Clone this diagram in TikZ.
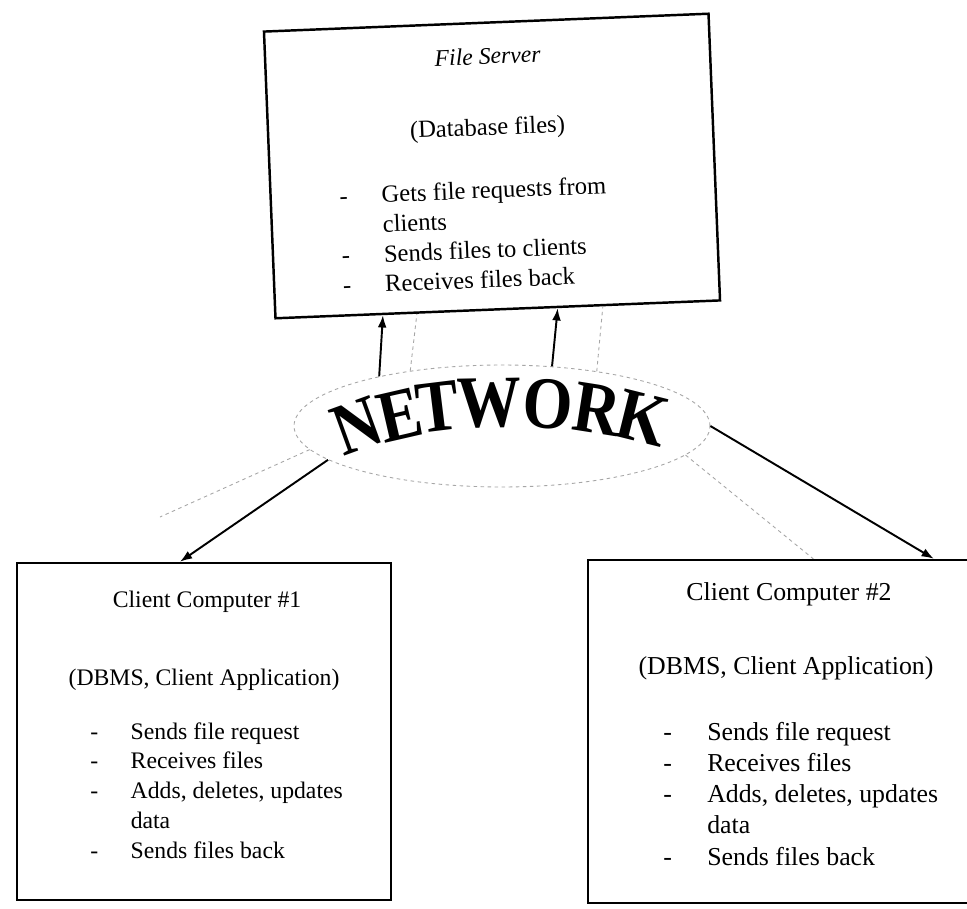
\documentclass[tikz,border=0pt]{standalone}
\usepackage{fontspec}
\setmainfont{Liberation Serif}
\usetikzlibrary{calc,arrows.meta,shapes.geometric}
% two-column list: dash, then the item text
\newcommand{\bulletrows}[2]{\begin{tabular}[t]{@{}p{#1}@{}l@{}}#2\end{tabular}}
\begin{document}
\begin{tikzpicture}[x=0.02cm,y=-0.02cm,
  box/.style={draw,line width=1.4pt,inner sep=0pt},
  txt/.style={font=\fontsize{13.5}{17}\selectfont,inner sep=0pt},
  bigtxt/.style={font=\fontsize{14.7}{17.8}\selectfont,inner sep=0pt},
  srvtxt/.style={font=\fontsize{14}{17}\selectfont,inner sep=0pt},
  lst/.style={anchor=base west,align=left},
  link/.style={line width=1.1pt,-{Latex[length=7pt,width=5pt]}},
  faint/.style={draw=black!35,line width=0.5pt,dash pattern=on 2pt off 2pt},
  letter/.style={font=\fontsize{42}{42}\bfseries\selectfont,inner sep=0pt,xscale=0.87}
]
\useasboundingbox[fill=white] (0,0) rectangle (967,909);

% file server box (slightly tilted)
\begin{scope}[rotate around={2.3:(492,166)},transform shape]
  \node[box,minimum width=8.9cm,minimum height=5.74cm] (srv) at (492,166) {};
  \node[srvtxt,font=\fontsize{13.5}{17}\itshape\selectfont,anchor=base] (srvtitle) at (492,64) {File Server};
  \node[srvtxt,anchor=base] (srvsub) at (489,135) {(Database files)};
  \node[srvtxt,lst] (srvlist) at (338,198)
    {\bulletrows{24pt}{- & Gets file requests from\\ & clients\\ - & Sends files to clients\\ - & Receives files back}};
\end{scope}

% network cloud with arched lettering
\node[ellipse,faint,minimum width=8.32cm,minimum height=2.44cm,inner sep=0pt] (net) at (502,426) {};
\node[rotate=20,letter] (nN) at (357,426) {N};
\node[rotate=13,letter] (nE) at (400,415) {E};
\node[rotate=7,letter]  (nT) at (438,407) {T};
\node[rotate=1,letter]  (nW) at (489,403) {W};
\node[rotate=-4,letter] (nO) at (548,404) {O};
\node[rotate=-9,letter] (nR) at (597,409) {R};
\node[rotate=-14,letter] (nK) at (643,418) {K};

% client computer 1
\node[box,minimum width=7.48cm,minimum height=6.74cm] (c1) at (204,731.5) {};
\node[txt,anchor=base] (c1title) at (207,607) {Client Computer \#1};
\node[txt,anchor=base] (c1sub) at (204,685) {(DBMS, Client Application)};
\node[txt,lst] (c1list) at (90,739)
  {\bulletrows{23pt}{- & Sends file request\\ - & Receives files\\ - & Adds, deletes, updates\\ & data\\ - & Sends files back}};

% client computer 2 (runs past the right edge)
\node[box,minimum width=7.94cm,minimum height=6.86cm] (c2) at (786.5,731.5) {};
\node[bigtxt,anchor=base] (c2title) at (789,600) {Client Computer \#2};
\node[bigtxt,anchor=base] (c2sub) at (786,674) {(DBMS, Client Application)};
\node[bigtxt,lst] (c2list) at (663,740)
  {\bulletrows{25pt}{- & Sends file request\\ - & Receives files\\ - & Adds, deletes, updates\\ & data\\ - & Sends files back}};

% connectors
\draw[link] (net.158) -- ($(srv.south west)!0.243!(srv.south east)$);
\draw[link] (net.50) -- ($(srv.south west)!0.634!(srv.south east)$);
\draw[faint] (net.149) -- ($(srv.south west)!0.319!(srv.south east)$);
\draw[faint] (net.30) -- ($(srv.south west)!0.735!(srv.south east)$);
\draw[link] (net.191) -- ($(c1.north west)!0.436!(c1.north east)$);
\draw[link] (net.east) -- ($(c2.north west)!0.869!(c2.north east)$);
\coordinate (fadeL) at (160,517);
\draw[faint] (net.187) -- (fadeL);
\draw[faint] (net.-9) -- ($(c2.north west)!0.567!(c2.north east)$);
\end{tikzpicture}
\end{document}
